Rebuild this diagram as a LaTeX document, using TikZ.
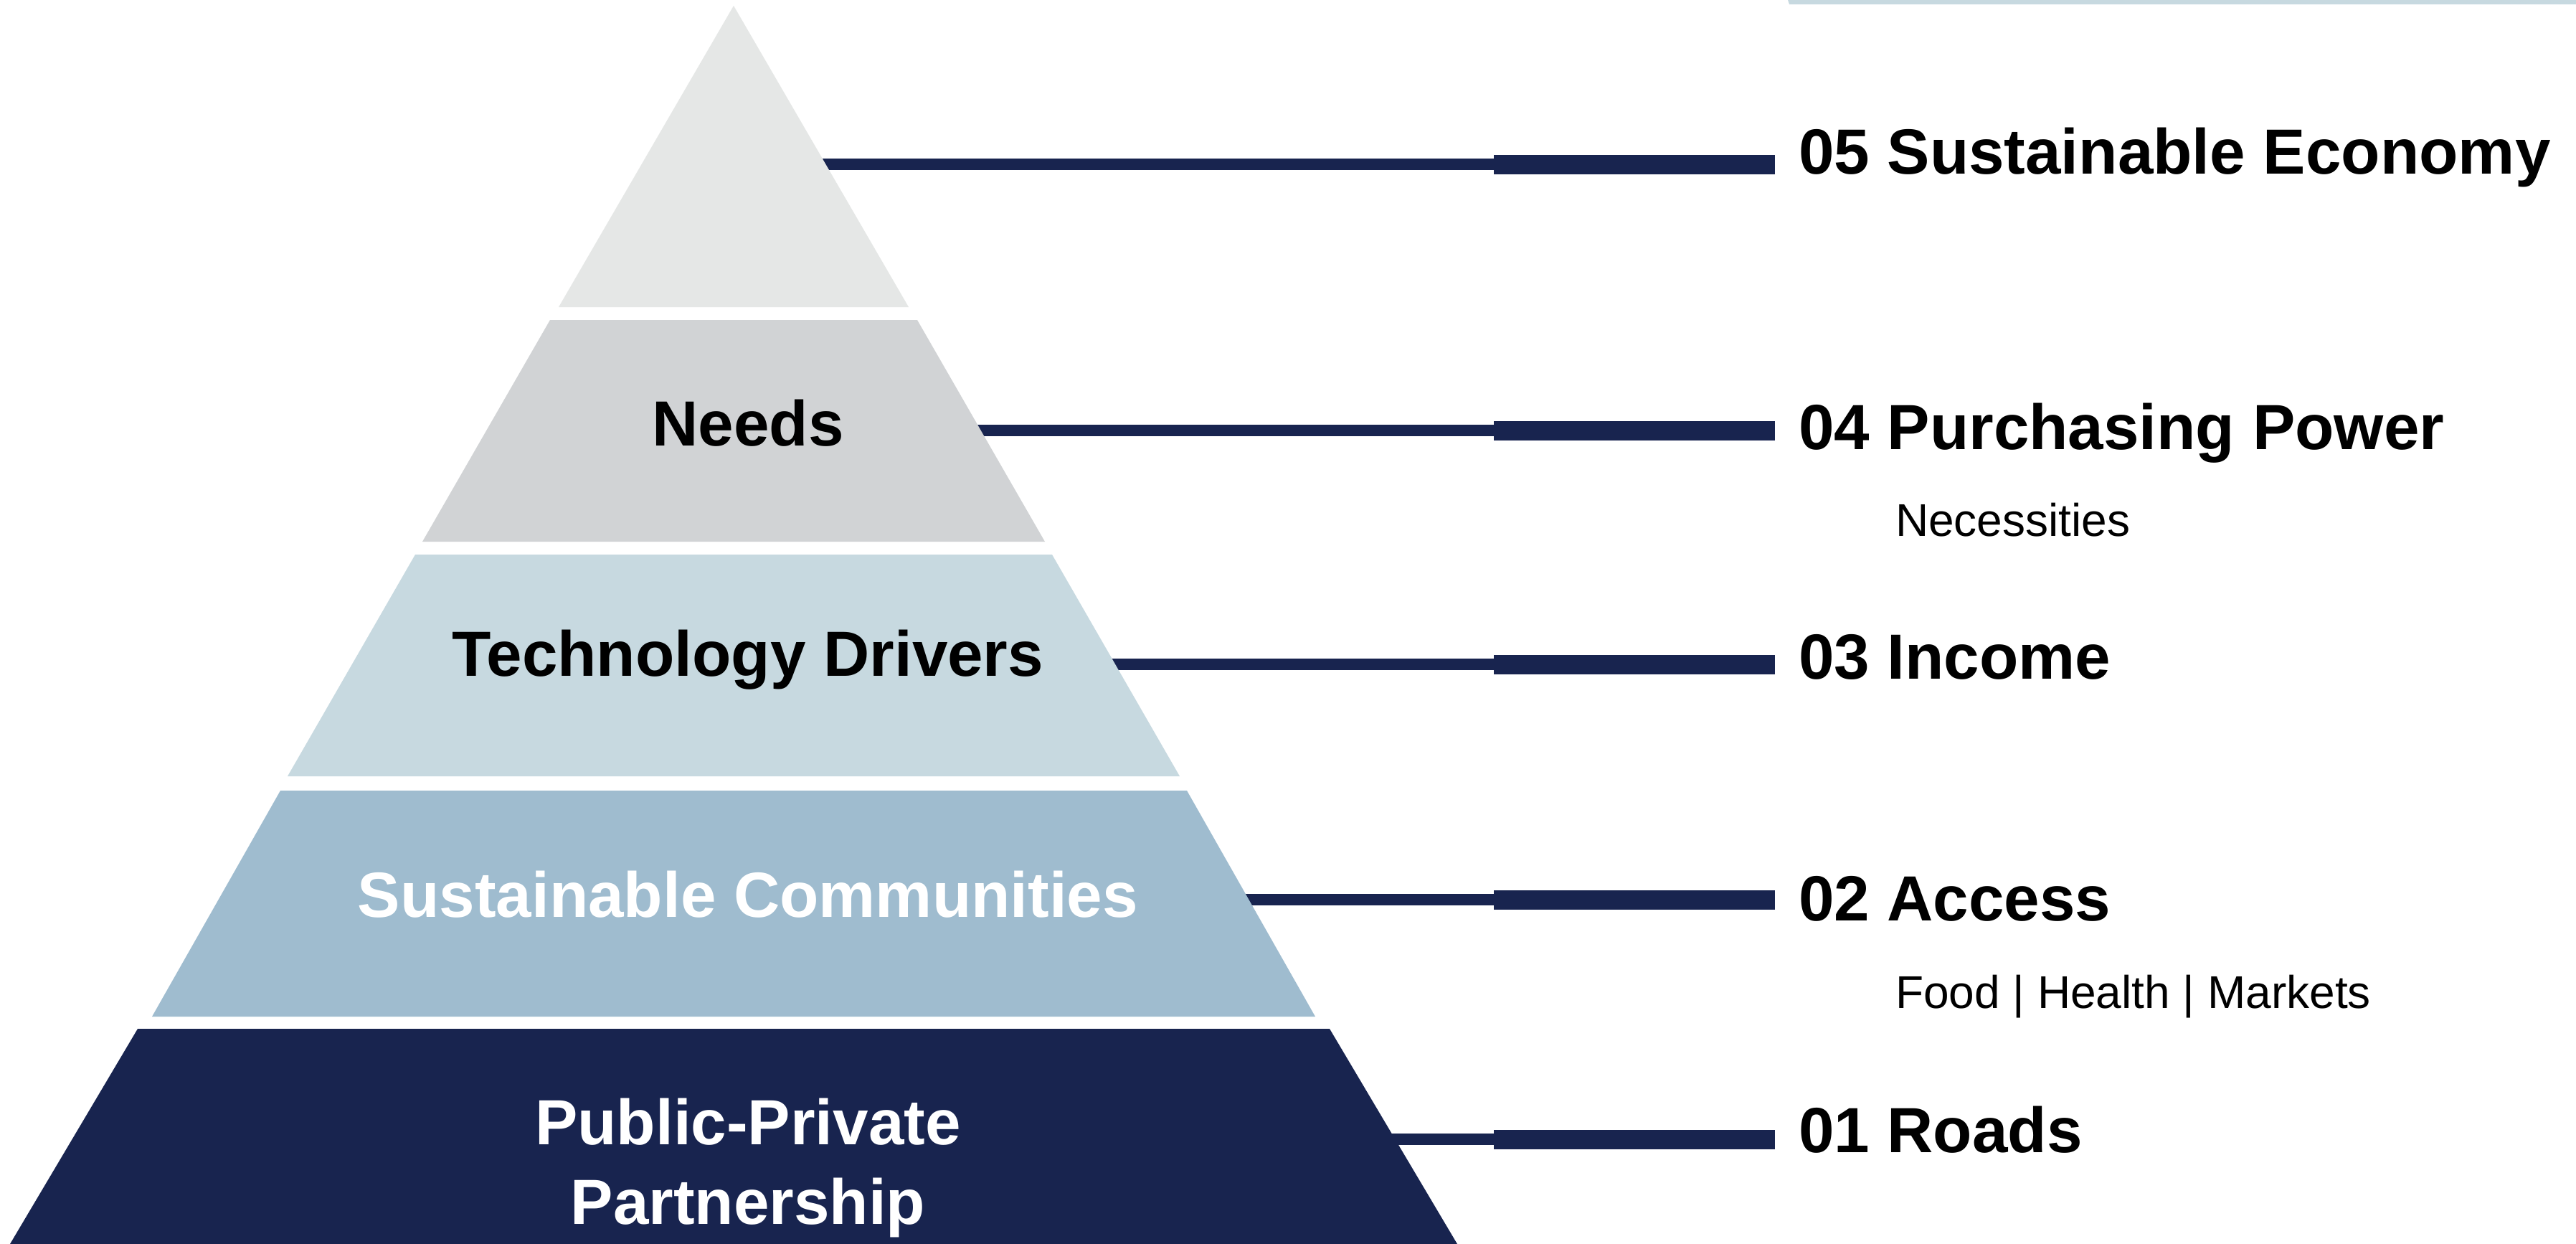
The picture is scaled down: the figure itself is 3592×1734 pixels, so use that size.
\documentclass[tikz,border=0pt]{standalone}
\usepackage{fontspec}
\setmainfont{Liberation Sans}
\definecolor{navy}{HTML}{18244F}
\definecolor{bandA}{HTML}{E5E7E6}
\definecolor{bandB}{HTML}{D1D3D5}
\definecolor{bandC}{HTML}{C7D9E0}
\definecolor{bandD}{HTML}{9FBCCF}
\tikzset{
  thinconn/.style={draw=navy, line width=3.2pt},
  thickconn/.style={draw=navy, line width=5.4pt},
  bandlabel/.style={inner sep=0pt, anchor=base, font=\fontsize{17.8}{21}\selectfont\bfseries},
  steplabel/.style={inner sep=0pt, anchor=base west, font=\fontsize{17.8}{21}\selectfont\bfseries, text=black},
  sublabel/.style={inner sep=0pt, anchor=base west, font=\fontsize{12.8}{15}\selectfont, text=black}
}
\begin{document}
\begin{tikzpicture}[x=0.2pt, y=-0.2pt]
\useasboundingbox (0,0) rectangle (3592,1734);
\fill[white] (0,0) rectangle (3592,1734);

% top-right light bar
\fill[bandC] (2493,0) -- (3592,0) -- (3592,6) -- (2495,6) -- cycle;

% connector coordinates
\coordinate (s5) at (1023,229);  \coordinate (m5) at (2083,229);  \coordinate (e5) at (2475,229);
\coordinate (s4) at (1023,600);  \coordinate (m4) at (2083,600);  \coordinate (e4) at (2475,600);
\coordinate (s3) at (1023,926);  \coordinate (m3) at (2083,926);  \coordinate (e3) at (2475,926);
\coordinate (s2) at (1023,1254); \coordinate (m2) at (2083,1254); \coordinate (e2) at (2475,1254);
\coordinate (s1) at (1023,1588); \coordinate (m1) at (2083,1588); \coordinate (e1) at (2475,1588);

\foreach \i in {1,...,5} {
  \draw[thinconn] (s\i) -- (m\i);
  \draw[thickconn] (m\i) -- (e\i);
}

% pyramid bands
\fill[bandA] (1023,8) -- (1267,428) -- (779,428) -- cycle;
\fill[bandB] (767,446) -- (1279,446) -- (1457,755) -- (589,755) -- cycle;
\fill[bandC] (579,773) -- (1467,773) -- (1645,1082) -- (401,1082) -- cycle;
\fill[bandD] (391,1102) -- (1655,1102) -- (1834,1417) -- (212,1417) -- cycle;
\fill[navy] (192,1434) -- (1854,1434) -- (2032,1734) -- (14,1734) -- cycle;

% band labels
\node[bandlabel, text=black] (needs) at (1043,621) {Needs};
\node[bandlabel, text=black] (tech) at (1043,942) {Technology Drivers};
\node[bandlabel, text=white] (comm) at (1043,1278) {Sustainable Communities};
\node[bandlabel, text=white] (ppp1) at (1043,1595) {Public-Private};
\node[bandlabel, text=white] (ppp2) at (1043,1706) {Partnership};

% step labels
\node[steplabel] (l5) at (2507,242) {05 Sustainable Economy};
\node[steplabel] (l4) at (2507,626) {04 Purchasing Power};
\node[sublabel] (n4) at (2642,747) {Necessities};
\node[steplabel] (l3) at (2507,946) {03 Income};
\node[steplabel] (l2) at (2507,1283) {02 Access};
\node[sublabel] (n2) at (2642,1405) {Food | Health | Markets};
\node[steplabel] (l1) at (2507,1606) {01 Roads};
\end{tikzpicture}
\end{document}
